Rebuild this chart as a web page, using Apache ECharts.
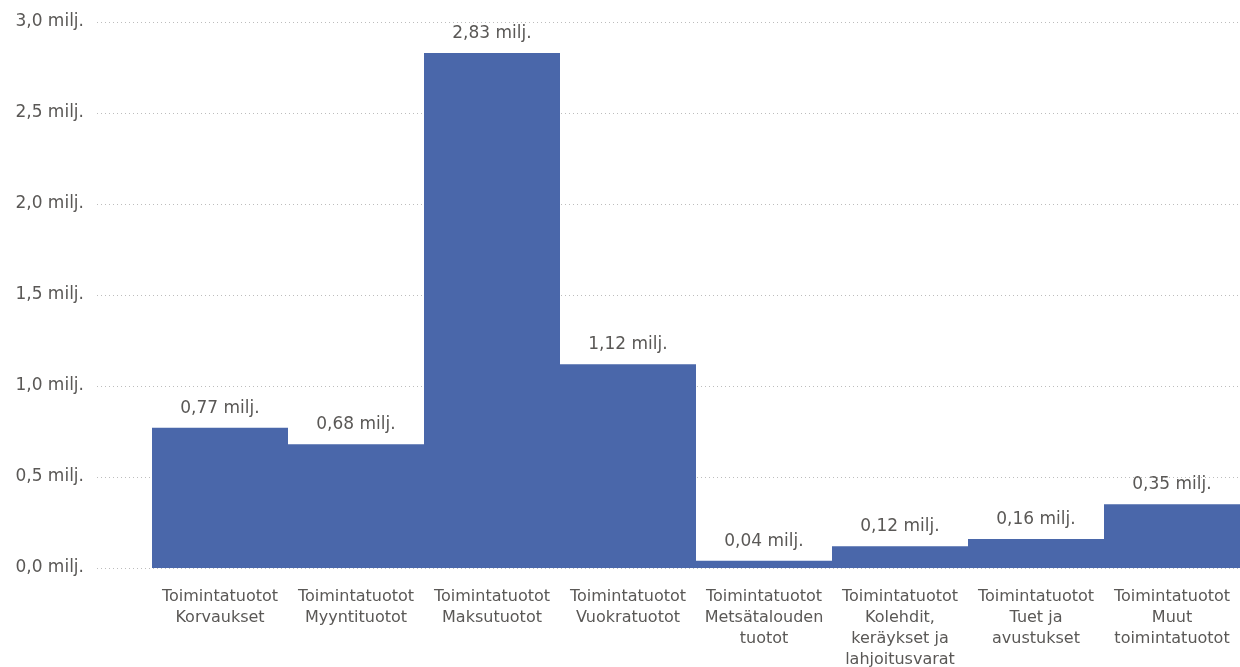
<!DOCTYPE html>
<html><head><meta charset="utf-8">
<script src="https://cdn.jsdelivr.net/npm/echarts@6/dist/echarts.min.js"></script>
<style>html,body{margin:0;padding:0;background:#fff}#c{width:1240px;height:667px}</style>
</head><body><div id="c"></div>
<script>
const categories = [
  "Toimintatuotot\nKorvaukset",
  "Toimintatuotot\nMyyntituotot",
  "Toimintatuotot\nMaksutuotot",
  "Toimintatuotot\nVuokratuotot",
  "Toimintatuotot\nMetsätalouden\ntuotot",
  "Toimintatuotot\nKolehdit,\nkeräykset ja\nlahjoitusvarat",
  "Toimintatuotot\nTuet ja\navustukset",
  "Toimintatuotot\nMuut\ntoimintatuotot"
];
const values = [0.77, 0.68, 2.83, 1.12, 0.04, 0.12, 0.16, 0.35];
const yTicks = [0, 0.5, 1.0, 1.5, 2.0, 2.5, 3.0];

const FONT = "DejaVu Sans";
const fmt1 = v => v.toFixed(1).replace('.', ',') + ' milj.';
const fmt2 = v => v.toFixed(2).replace('.', ',') + ' milj.';

const chart = echarts.init(document.getElementById('c'));
chart.setOption({
  animation: false,
  textStyle: { fontFamily: FONT },
  grid: [
    { left: 97, right: 0, top: 22, bottom: 99, outerBoundsMode: 'none', containLabel: false },
    { left: 152, right: 0, top: 22, bottom: 99, outerBoundsMode: 'none', containLabel: false }
  ],
  xAxis: [
    { gridIndex: 0, type: 'value', show: false, min: 0, max: 1 },
    { gridIndex: 1, type: 'category', data: categories,
      axisLine: { show: false }, axisTick: { show: false },
      axisLabel: { color: '#5a5856', fontSize: 16, fontFamily: FONT, lineHeight: 21, margin: 18, interval: 0, align: 'center', verticalAlign: 'top' } }
  ],
  yAxis: [
    { gridIndex: 0, type: 'value', min: yTicks[0], max: yTicks[yTicks.length - 1], interval: 0.5,
      axisLine: { show: false }, axisTick: { show: false },
      axisLabel: { color: '#5a5856', fontSize: 17, fontFamily: FONT, margin: 13, formatter: fmt1 },
      splitLine: { show: true, lineStyle: { type: [1, 3], color: '#bdbdbd', width: 1 } } },
    { gridIndex: 1, type: 'value', min: yTicks[0], max: yTicks[yTicks.length - 1], interval: 0.5,
      show: false, splitLine: { show: false } }
  ],
  series: [{
    type: 'bar', xAxisIndex: 1, yAxisIndex: 1, data: values,
    barCategoryGap: '0%',
    itemStyle: { color: '#4a67aa' },
    label: { show: true, position: 'top', distance: 11, color: '#5a5856', fontSize: 17, fontFamily: FONT,
      formatter: p => fmt2(p.value) }
  }]
});
</script></body></html>
